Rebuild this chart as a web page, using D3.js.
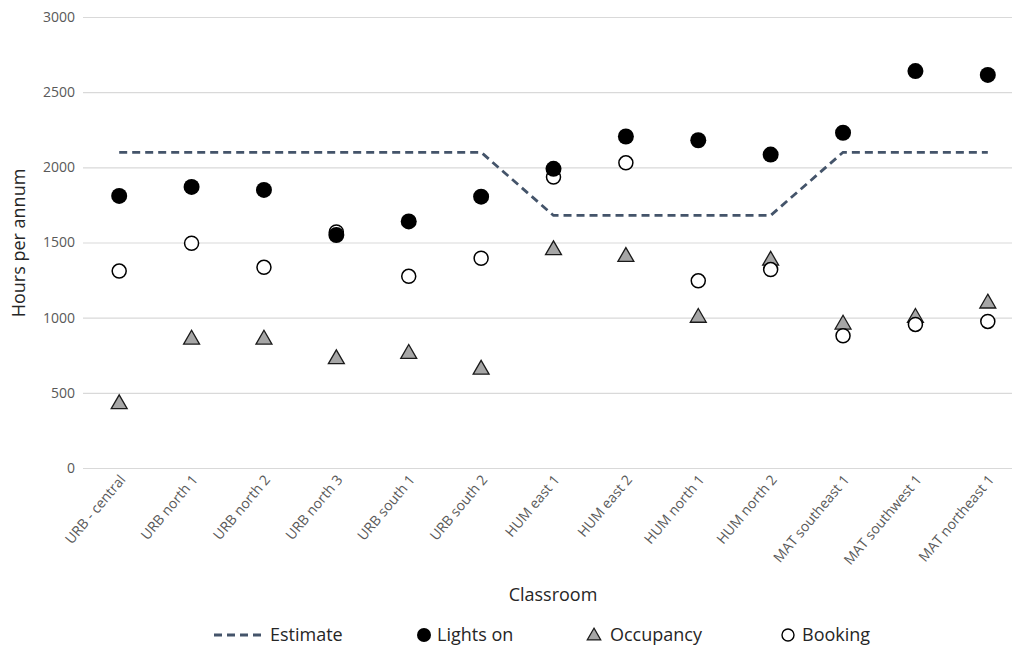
<!DOCTYPE html>
<html>
<head>
<meta charset="utf-8">
<script src="https://cdn.jsdelivr.net/npm/d3@7"></script>
<style>
  body { margin: 0; background: #fff; }
  svg text { font-family: 'Open Sans', sans-serif; }
</style>
</head>
<body>
<div id="chart"></div>
<script>
const classrooms = ['URB - central', 'URB north 1', 'URB north 2', 'URB north 3', 'URB south 1', 'URB south 2',
  'HUM east 1', 'HUM east 2', 'HUM north 1', 'HUM north 2', 'MAT southeast 1', 'MAT southwest 1', 'MAT northeast 1'];
const estimate = [2100, 2100, 2100, 2100, 2100, 2100, 1680, 1680, 1680, 1680, 2100, 2100, 2100];
const lightsOn = [1810, 1870, 1850, 1550, 1640, 1805, 1990, 2205, 2180, 2085, 2230, 2640, 2615];
const occupancy = [425, 855, 855, 725, 760, 655, 1450, 1405, 1000, 1380, 955, 1000, 1095];
const booking = [1310, 1495, 1335, 1570, 1275, 1395, 1935, 2030, 1245, 1320, 880, 955, 975];
const yTicks = [0, 500, 1000, 1500, 2000, 2500, 3000];

const W = 1012, H = 649;
const svg = d3.select('#chart').append('svg').attr('width', W).attr('height', H);

const x = d3.scaleBand().domain(classrooms).range([83, 1024]);
const cx = d => x(d) + x.bandwidth() / 2;
const y = d3.scaleLinear().domain([0, 3000]).range([468, 17]);

// gridlines + y labels
const yAxis = d3.axisLeft(y).tickValues(yTicks).tickFormat(d3.format('d'))
  .tickSize(-(W - 83)).tickPadding(8);
svg.append('g')
  .attr('transform', 'translate(83,0)')
  .call(yAxis)
  .call(g => g.select('.domain').remove())
  .call(g => g.selectAll('.tick line').attr('stroke', '#d9d9d9').attr('stroke-width', 1.2))
  .call(g => g.selectAll('.tick text').attr('fill', '#595959').style('font-size', '14px'));

// x labels
svg.append('g')
  .selectAll('text')
  .data(classrooms)
  .enter()
  .append('text')
  .attr('transform', d => `translate(${cx(d) + 7},${480}) rotate(-50)`)
  .attr('text-anchor', 'end')
  .attr('fill', '#595959')
  .style('font-size', '14px')
  .text(d => d);

// axis titles
svg.append('text')
  .attr('transform', 'translate(25,243) rotate(-90)')
  .attr('text-anchor', 'middle')
  .attr('fill', '#262626')
  .style('font-size', '18px')
  .text('Hours per annum');

svg.append('text')
  .attr('x', 553).attr('y', 601)
  .attr('text-anchor', 'middle')
  .attr('fill', '#262626')
  .style('font-size', '18px')
  .text('Classroom');

// estimate line
const line = d3.line().x((d, i) => cx(classrooms[i])).y(d => y(d));
svg.append('path')
  .datum(estimate)
  .attr('d', line)
  .attr('fill', 'none')
  .attr('stroke', '#44546a')
  .attr('stroke-width', 2.8)
  .attr('stroke-dasharray', '8,5');

const tri = d3.symbol().type(d3.symbolTriangle).size(110);

// occupancy
svg.append('g')
  .selectAll('path')
  .data(occupancy)
  .enter()
  .append('path')
  .attr('d', tri)
  .attr('transform', (d, i) => `translate(${cx(classrooms[i])},${y(d)})`)
  .attr('fill', '#a6a6a6')
  .attr('stroke', '#1a1a1a')
  .attr('stroke-width', 1.3);

// booking
svg.append('g')
  .selectAll('circle')
  .data(booking)
  .enter()
  .append('circle')
  .attr('cx', (d, i) => cx(classrooms[i]))
  .attr('cy', d => y(d))
  .attr('r', 7)
  .attr('fill', '#fff')
  .attr('stroke', '#000')
  .attr('stroke-width', 1.5);

// lights on
svg.append('g')
  .selectAll('circle')
  .data(lightsOn)
  .enter()
  .append('circle')
  .attr('cx', (d, i) => cx(classrooms[i]))
  .attr('cy', d => y(d))
  .attr('r', 8)
  .attr('fill', '#000');

// legend
const leg = svg.append('g').attr('transform', 'translate(0,635)');
leg.append('line')
  .attr('x1', 214).attr('x2', 262).attr('y1', 0).attr('y2', 0)
  .attr('stroke', '#44546a').attr('stroke-width', 2.8).attr('stroke-dasharray', '8,5');
leg.append('circle').attr('cx', 424).attr('cy', 0).attr('r', 7).attr('fill', '#000');
leg.append('path').attr('d', d3.symbol().type(d3.symbolTriangle).size(80))
  .attr('transform', 'translate(594,1)')
  .attr('fill', '#a6a6a6').attr('stroke', '#1a1a1a').attr('stroke-width', 1.2);
leg.append('circle').attr('cx', 788).attr('cy', 0).attr('r', 6)
  .attr('fill', '#fff').attr('stroke', '#000').attr('stroke-width', 1.4);

const legendItems = [
  { label: 'Estimate', x: 270 },
  { label: 'Lights on', x: 437 },
  { label: 'Occupancy', x: 610 },
  { label: 'Booking', x: 802 }
];
leg.selectAll('text.lbl')
  .data(legendItems)
  .enter()
  .append('text')
  .attr('class', 'lbl')
  .attr('x', d => d.x)
  .attr('y', 6)
  .attr('fill', '#262626')
  .style('font-size', '18px')
  .text(d => d.label);
</script>
</body>
</html>
